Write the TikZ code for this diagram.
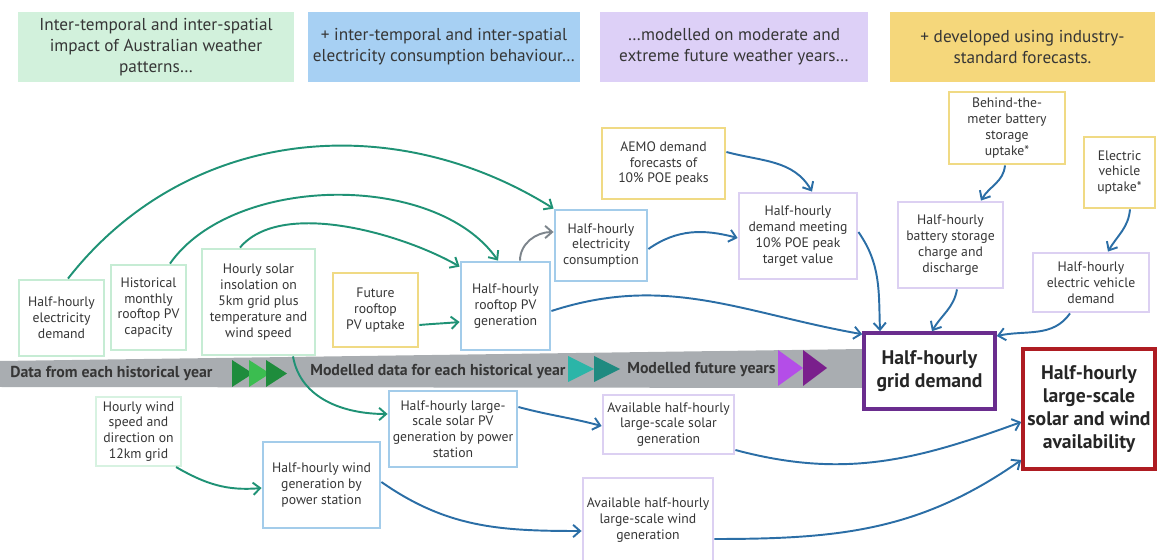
\documentclass[tikz,border=0pt]{standalone}
\usepackage{fontspec}
\setmainfont{PT Sans}
\usetikzlibrary{arrows.meta}
\definecolor{txt}{HTML}{363636}
\definecolor{hdgreen}{HTML}{D2F1DC}
\definecolor{hdblue}{HTML}{A7D0F3}
\definecolor{hdpurple}{HTML}{DDD0F7}
\definecolor{hdyellow}{HTML}{F5D77B}
\definecolor{bdgreen}{HTML}{C6ECD4}
\definecolor{bdblue}{HTML}{A3CCEA}
\definecolor{bdyellow}{HTML}{F0DA84}
\definecolor{bdpurple}{HTML}{DCD0F2}
\definecolor{bdgrid}{HTML}{6A2D8E}
\definecolor{bdavail}{HTML}{AE1C22}
\definecolor{arrgreen}{HTML}{1F9275}
\definecolor{arrblue}{HTML}{2B6EA6}
\definecolor{arrgray}{HTML}{7D858C}
\definecolor{bandgray}{HTML}{A9ADB1}
\definecolor{trgreen}{HTML}{1E8C3C}
\definecolor{trlime}{HTML}{3BBD50}
\definecolor{trteal}{HTML}{2BB5A8}
\definecolor{trdarkteal}{HTML}{1F8A80}
\definecolor{trlilac}{HTML}{B44DE8}
\definecolor{trplum}{HTML}{7A1F8C}
\tikzset{
  sz/.style 2 args={minimum width=#1*0.02cm, minimum height=#2*0.02cm},
  head/.style={align=center, inner sep=0pt, text=txt, font=\fontsize{9.8}{12}\selectfont},
  box/.style={draw, line width=1.6pt, fill=white, align=center, inner sep=1pt, text=txt, font=\fontsize{7.8}{9}\selectfont},
  bigbox/.style={draw, line width=2pt, fill=white, align=center, inner sep=1pt, text=black!85, font=\fontsize{11.2}{13}\selectfont\bfseries},
  bandtext/.style={anchor=west, inner sep=0pt, text=txt, font=\fontsize{9}{10}\selectfont\bfseries},
  link/.style={line width=1.1pt, -{Straight Barb[length=4pt,width=7pt]}},
  glink/.style={link, draw=arrgreen},
  blink/.style={link, draw=arrblue},
  graylink/.style={link, draw=arrgray}
}
\begin{document}
\begin{tikzpicture}[x=0.02cm, y=-0.02cm]
  \useasboundingbox (0,0) rectangle (1157,560);
  \fill[bandgray] (0,361) -- (864,349) -- (864,388) -- (0,387) -- cycle;
  \fill[trgreen] (232,360) -- (253,373.5) -- (232,387) -- cycle;
  \fill[trlime] (249,360) -- (270,373.5) -- (249,387) -- cycle;
  \fill[trgreen] (266,360) -- (287,373.5) -- (266,387) -- cycle;
  \fill[trteal] (568,356) -- (594,369) -- (568,382) -- cycle;
  \fill[trdarkteal] (594,356) -- (620,369) -- (594,382) -- cycle;
  \fill[trlilac] (778,350) -- (803,368) -- (778,386) -- cycle;
  \fill[trplum] (803,350) -- (827,368) -- (803,386) -- cycle;
  \node[bandtext] (bhist) at (10,374) {Data from each historical year};
  \node[bandtext] (bmod) at (310,372) {Modelled data for each historical year};
  \node[bandtext] (bfut) at (627,370) {Modelled future years};

  \node[head, fill=hdgreen, sz={276}{70}] (hgreen) at (156,47) {Inter-temporal and inter-spatial\\impact of Australian weather\\patterns…};
  \node[head, fill=hdblue, sz={272}{70}] (hblue) at (444,47) {+ inter-temporal and inter-spatial\\electricity consumption behaviour…};
  \node[head, fill=hdpurple, sz={268}{70}] (hpurple) at (734,47) {…modelled on moderate and\\extreme future weather years…};
  \node[head, fill=hdyellow, sz={265}{70}] (hyellow) at (1022.5,47) {+ developed using industry-\\standard forecasts.};

  \node[box, draw=bdgreen, sz={85}{76}] (elecdem) at (61.5,318) {Half-hourly\\electricity\\demand};
  \node[box, draw=bdgreen, sz={75}{85}] (histpv) at (148.5,307.5) {Historical\\monthly\\rooftop PV\\capacity};
  \node[box, draw=bdgreen, sz={113}{106}] (solar) at (258.5,302) {Hourly solar\\insolation on\\5km grid plus\\temperature and\\wind speed};
  \node[box, draw=bdyellow, sz={85}{74}] (futpv) at (375.5,310) {Future\\rooftop\\PV uptake};
  \node[box, draw=bdblue, sz={89}{88}] (rooftop) at (505.5,306) {Half-hourly\\rooftop PV\\generation};
  \node[box, draw=bdblue, sz={92}{71}] (consum) at (601,245.5) {Half-hourly\\electricity\\consumption};
  \node[box, draw=bdyellow, sz={123}{71}] (aemo) at (663.5,163.5) {AEMO demand\\forecasts of\\10\% POE peaks};
  \node[box, draw=bdpurple, sz={118}{86}] (target) at (798,236) {Half-hourly\\demand meeting\\10\% POE peak\\target value};
  \node[box, draw=bdyellow, sz={116}{72}] (btm) at (1007,128) {Behind-the-\\meter battery\\storage\\uptake*};
  \node[box, draw=bdpurple, sz={105}{86}] (battery) at (950.5,245) {Half-hourly\\battery storage\\charge and\\discharge};
  \node[box, draw=bdyellow, sz={71}{71}] (evup) at (1119.5,172.5) {Electric\\vehicle\\uptake*};
  \node[box, draw=bdpurple, sz={116}{59}] (ev) at (1091,282.5) {Half-hourly\\electric vehicle\\demand};
  \node[bigbox, draw=bdgrid, sz={131}{76}] (grid) at (929.5,371) {Half-hourly\\grid demand};
  \node[bigbox, draw=bdavail, sz={132}{120}] (avail) at (1089,409) {Half-hourly\\large-scale\\solar and wind\\availability};
  \node[box, draw=bdgreen!70, line width=1.2pt, sz={85}{69}] (wind12) at (138.5,431.5) {Hourly wind\\speed and\\direction on\\12km grid};
  \node[box, draw=bdblue, sz={117}{86}] (windgen) at (321.5,485) {Half-hourly wind\\generation by\\power station};
  \node[box, draw=bdblue, sz={128}{76}] (lsolar) at (453,429) {Half-hourly large-\\scale solar PV\\generation by power\\station};
  \node[box, draw=bdpurple, sz={131}{59}] (asolar) at (668.5,424.5) {Available half-hourly\\large-scale solar\\generation};
  \node[box, draw=bdpurple, sz={130}{84}] (awind) at (648,520) {Available half-hourly\\large-scale wind\\generation};

  \draw[glink] ([xshift=0.13cm]elecdem.north) to[out=52, in=148] (consum.north west);
  \draw[glink] ([xshift=0.43cm]histpv.north) to[out=55, in=125, looseness=0.85] ([xshift=-0.15cm]rooftop.north);
  \draw[glink] ([xshift=-0.37cm]solar.north) to[out=50, in=150, looseness=0.75] ([yshift=-0.12cm]rooftop.north west);
  \draw[glink] ([yshift=-0.3cm]futpv.east) to[out=5, in=185] ([yshift=-0.32cm]rooftop.west);
  \draw[graylink] ([xshift=0.29cm]rooftop.north) to[out=90, in=180] ([yshift=0.27cm]consum.west);
  \draw[blink] ([yshift=-0.07cm]consum.east) to[out=35, in=165] ([yshift=-0.04cm]target.west);
  \draw[blink] ([yshift=0.23cm]aemo.east) to[out=-15, in=120] ([xshift=0.28cm]target.north);
  \draw[blink] ([yshift=-0.1cm]rooftop.east) to[out=18, in=170] ([yshift=-0.06cm]grid.north west);
  \draw[blink] ([yshift=0.08cm]target.east) to[out=-55, in=92] ([xshift=-0.99cm]grid.north);
  \draw[blink] ([xshift=-0.04cm]btm.south) to[out=-95, in=60] ([xshift=0.61cm]battery.north);
  \draw[blink] ([xshift=0.13cm]battery.south) to[out=-100, in=60] ([xshift=0.05cm]grid.north);
  \draw[blink] ([xshift=0.21cm]evup.south) to[out=-95, in=60] ([xshift=0.34cm]ev.north);
  \draw[blink] ([xshift=-0.42cm]ev.south) to[out=-125, in=12] ([yshift=0.7cm]grid.east);
  \draw[glink] ([xshift=0.69cm]solar.south) to[out=-80, in=180] ([yshift=0.3cm]lsolar.west);
  \draw[glink] ([xshift=-0.12cm]wind12.south east) to[out=-30, in=185] ([yshift=-0.06cm]windgen.west);
  \draw[blink] ([yshift=0.44cm]lsolar.east) to[out=-15, in=165] ([yshift=-0.03cm]asolar.west);
  \draw[blink] ([yshift=0.06cm]windgen.east) to[out=-35, in=180] ([yshift=-0.22cm]awind.west);
  \draw[blink] ([yshift=-0.51cm]asolar.east) to[out=-15, in=200] ([yshift=-0.26cm]avail.west);
  \draw[blink] ([yshift=-0.38cm]awind.east) to[out=0, in=215] ([yshift=-1.02cm]avail.west);
\end{tikzpicture}
\end{document}
